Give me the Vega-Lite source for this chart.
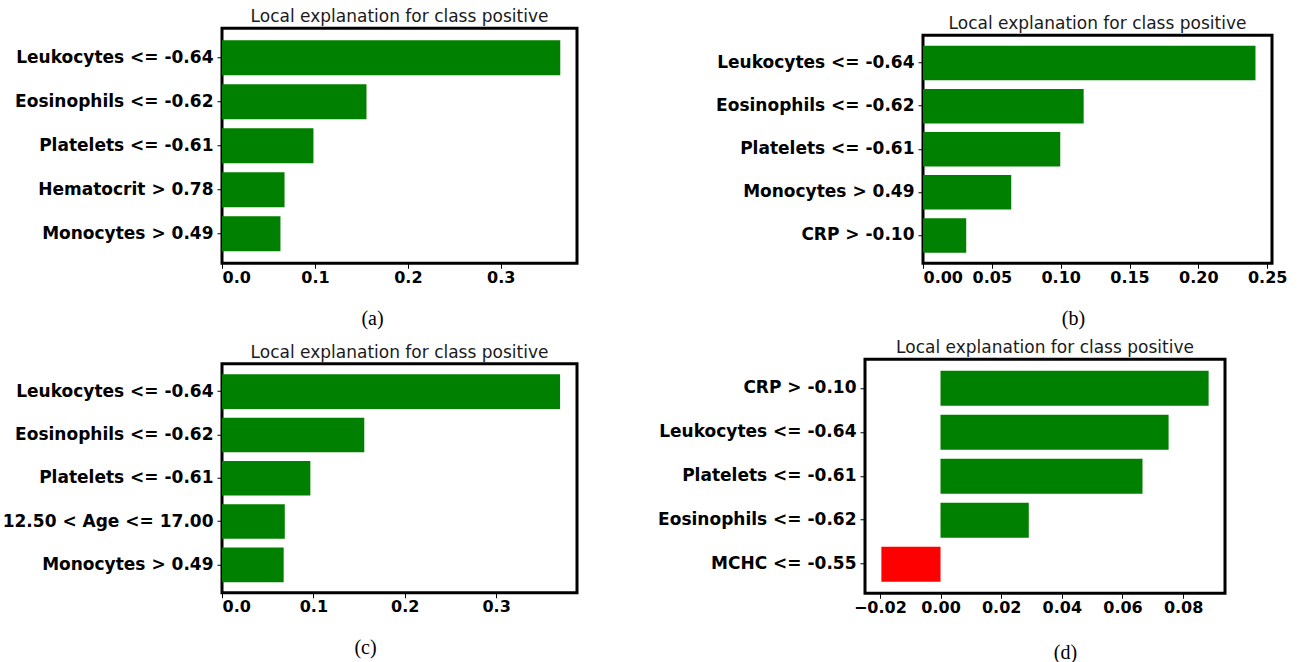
{
  "$schema": "https://vega.github.io/schema/vega-lite/v6.json",
  "padding": {"left": 0, "top": 6, "right": 0, "bottom": 0},
  "background": "white",
  "datasets": {
    "a": [
      {"feature": "Leukocytes <= -0.64", "weight": 0.364},
      {"feature": "Eosinophils <= -0.62", "weight": 0.1555},
      {"feature": "Platelets <= -0.61", "weight": 0.0984},
      {"feature": "Hematocrit > 0.78", "weight": 0.0673},
      {"feature": "Monocytes > 0.49", "weight": 0.0629}
    ],
    "b": [
      {"feature": "Leukocytes <= -0.64", "weight": 0.2415},
      {"feature": "Eosinophils <= -0.62", "weight": 0.1167},
      {"feature": "Platelets <= -0.61", "weight": 0.0997},
      {"feature": "Monocytes > 0.49", "weight": 0.0641},
      {"feature": "CRP > -0.10", "weight": 0.0314}
    ],
    "c": [
      {"feature": "Leukocytes <= -0.64", "weight": 0.370},
      {"feature": "Eosinophils <= -0.62", "weight": 0.1557},
      {"feature": "Platelets <= -0.61", "weight": 0.0967},
      {"feature": "12.50 < Age <= 17.00", "weight": 0.0687},
      {"feature": "Monocytes > 0.49", "weight": 0.0675}
    ],
    "d": [
      {"feature": "CRP > -0.10", "weight": 0.0884},
      {"feature": "Leukocytes <= -0.64", "weight": 0.0752},
      {"feature": "Platelets <= -0.61", "weight": 0.0666},
      {"feature": "Eosinophils <= -0.62", "weight": 0.0291},
      {"feature": "MCHC <= -0.55", "weight": -0.0195}
    ]
  },
  "config": {
    "view": {"stroke": "black", "strokeWidth": 3},
    "font": "DejaVu Sans",
    "title": {"font": "DejaVu Sans", "fontSize": 17, "fontWeight": "normal", "color": "#1a1a1a", "offset": 2},
    "axis": {"domain": false, "grid": false, "tickColor": "black", "tickSize": 5, "labelColor": "black", "labelFont": "DejaVu Sans", "labelFontWeight": "bold", "labelLimit": 400},
    "axisY": {"labelFontSize": 17, "labelPadding": 4},
    "axisX": {"labelFontSize": 16, "labelPadding": 1, "titleFont": "Liberation Serif", "titleFontSize": 20, "titleFontWeight": "normal", "titleColor": "black", "titlePadding": 23, "titleAlign": "center"}
  },
  "vconcat": [
    {
      "spacing": 135,
      "center": true,
      "hconcat": [
        {
          "data": {"name": "a"},
          "width": 355, "height": 235,
          "title": "Local explanation for class positive",
          "mark": "bar",
          "encoding": {
            "y": {"field": "feature", "type": "nominal", "sort": null, "scale": {"paddingInner": 0.2, "paddingOuter": 0.27}, "axis": {"title": null}},
            "x": {"field": "weight", "type": "quantitative", "scale": {"domain": [0, 0.382], "nice": false}, "axis": {"values": [0, 0.1, 0.2, 0.3], "format": ".1f", "title": ["(a)", ""], "titleLineHeight": 7, "titleX": 150}},
            "color": {"condition": {"test": "datum.weight > 0", "value": "#008000"}, "value": "#ff0000"}
          }
        },
        {
          "data": {"name": "b"},
          "width": 349, "height": 228,
          "title": "Local explanation for class positive",
          "mark": "bar",
          "encoding": {
            "y": {"field": "feature", "type": "nominal", "sort": null, "scale": {"paddingInner": 0.2, "paddingOuter": 0.245}, "axis": {"title": null}},
            "x": {"field": "weight", "type": "quantitative", "scale": {"domain": [0, 0.2535], "nice": false}, "axis": {"values": [0, 0.05, 0.1, 0.15, 0.2, 0.25], "format": ".2f", "title": "(b)", "titleX": 150}},
            "color": {"condition": {"test": "datum.weight > 0", "value": "#008000"}, "value": "#ff0000"}
          }
        }
      ]
    },
    {
      "spacing": 77,
      "center": true,
      "hconcat": [
        {
          "data": {"name": "c"},
          "width": 355, "height": 229,
          "title": "Local explanation for class positive",
          "mark": "bar",
          "encoding": {
            "y": {"field": "feature", "type": "nominal", "sort": null, "scale": {"paddingInner": 0.2, "paddingOuter": 0.245}, "axis": {"title": null}},
            "x": {"field": "weight", "type": "quantitative", "scale": {"domain": [0, 0.3885], "nice": false}, "axis": {"values": [0, 0.1, 0.2, 0.3], "format": ".1f", "title": "(c)", "titleX": 143}},
            "color": {"condition": {"test": "datum.weight > 0", "value": "#008000"}, "value": "#ff0000"}
          }
        },
        {
          "data": {"name": "d"},
          "width": 360, "height": 234,
          "title": "Local explanation for class positive",
          "mark": "bar",
          "encoding": {
            "y": {"field": "feature", "type": "nominal", "sort": null, "scale": {"paddingInner": 0.2, "paddingOuter": 0.26}, "axis": {"title": null}},
            "x": {"field": "weight", "type": "quantitative", "scale": {"domain": [-0.0249, 0.0938], "nice": false}, "axis": {"values": [-0.02, 0, 0.02, 0.04, 0.06, 0.08], "format": ".2f", "title": "(d)", "titleX": 200, "titlePadding": 27}},
            "color": {"condition": {"test": "datum.weight > 0", "value": "#008000"}, "value": "#ff0000"}
          }
        }
      ]
    }
  ],
  "spacing": 0
}
